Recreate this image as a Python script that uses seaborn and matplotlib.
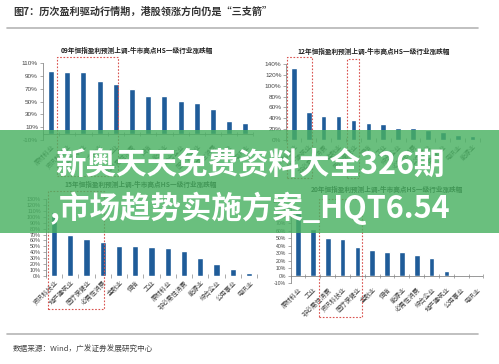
import numpy as np
import pandas as pd
import matplotlib.pyplot as plt
import matplotlib.patches as patches
from matplotlib.lines import Line2D
import matplotlib.transforms as mtransforms
import seaborn as sns

sns.set_theme(style='white')
plt.rcParams['font.family'] = ['Noto Sans CJK SC', 'DejaVu Sans']
plt.rcParams['axes.unicode_minus'] = False

# -----------------------------
# data
# -----------------------------
tl_labels = ['原材料业', '资讯科技业', '地产建筑业', '金融业', '工业', '非必需性消费', '恒指',
             '能源业', '综合企业', '医疗保健业', '必需性消费', '公用事业', '电讯业']
tl_values = [97, 96, 96, 82, 77, 70, 59, 58, 51, 48, 39, 19, 17]

tr_labels = ['资讯科技业', '地产建筑业', '非必需性消费', '金融业', '医疗保健业', '恒指', '工业',
             '综合企业', '必需性消费', '公用事业', '原材料业', '电讯业', '能源业']
tr_values = [133, 52, 45, 44, 36, 31, 30, 22, 22, 19, 15, 9, 7]

bl_labels = ['资讯科技业', '地产建筑业', '医疗保健业', '必需性消费', '金融业', '恒指', '工业',
             '原材料业', '非必需性消费', '能源业', '综合企业', '公用事业', '电讯业']
bl_values = [108, 69, 62, 57, 51, 51, 49, 48, 42, 31, 21, 11, 4.5]

br_labels = ['原材料业', '工业', '非必需性消费', '资讯科技业', '医疗保健业', '金融业', '恒指',
             '能源业', '必需性消费', '综合企业', '地产建筑业', '公用事业', '电讯业']
br_values = [84, 62, 51, 49, 38, 34, 32, 31.5, 27, 23.5, 6, -0.5, -1.5]

tl_title = '09年恒指盈利预测上调-牛市高点HS一级行业涨跌幅'
tr_title = '12年恒指盈利预测上调-牛市高点HS一级行业涨跌幅'
bl_title = '15年恒指盈利预测上调-牛市高点HS一级行业涨跌幅'
br_title = '20年恒指盈利预测上调-牛市高点HS一级行业涨跌幅'

BAR = '#1f5c99'
RED = '#d9534f'
GREY = '#444444'


def draw_panel(ax, labels, values, ylim, ystep, title, title_pos, boxes, tick_fs=4.6):
    df = pd.DataFrame({'ind': labels, 'chg': values})
    sns.barplot(data=df, x='ind', y='chg', color=BAR, width=0.38,
                saturation=1, ax=ax, zorder=2)
    ax.set_xlim(-0.5, len(labels) - 0.5)
    ax.set_ylim(*ylim)
    ticks = np.arange(ylim[0], ylim[1] + 0.1, ystep)
    ax.set_yticks(ticks)
    ax.set_yticklabels([f'{t:.0f}%' for t in ticks], fontsize=tick_fs, color=GREY,
                       family=['Liberation Sans', 'DejaVu Sans'])
    ax.set_xticks(range(len(labels)))
    ax.set_xticklabels(labels, rotation=45, ha='right', rotation_mode='anchor',
                       fontsize=4.6, color=GREY)
    ax.tick_params(axis='x', length=0, pad=2)
    ax.tick_params(axis='y', length=2, width=0.5, color='#888888', pad=1.5, left=True)
    ax.set_xlabel('')
    ax.set_ylabel('')
    for s in ['top', 'right', 'bottom']:
        ax.spines[s].set_visible(False)
    ax.spines['left'].set_color('#888888')
    ax.spines['left'].set_linewidth(0.6)
    ax.axhline(0, color='#888888', lw=0.6, zorder=3)
    ax.plot(np.arange(len(labels) + 1) - 0.5, np.zeros(len(labels) + 1), '|',
            color='#888888', ms=2.5, mew=0.5, clip_on=False, zorder=3)
    ax.text(title_pos[0], title_pos[1], title, transform=ax.transAxes, ha='center',
            va='center', fontsize=4.8, fontweight='bold', color='#222222')
    trans = mtransforms.blended_transform_factory(ax.transData, ax.transAxes)
    for x0, x1, y0, y1 in boxes:
        ax.add_patch(patches.Rectangle((x0, y0), x1 - x0, y1 - y0, transform=trans,
                                       fill=False, ec=RED, lw=0.8, ls=(0, (1.5, 1.5)),
                                       clip_on=False, zorder=4))


fig = plt.figure(figsize=(4.99, 3.64), dpi=100)
fig.patch.set_facecolor('white')

ax_tl = fig.add_axes([0.086, 0.6154, 0.422, 0.2115])
ax_tr = fig.add_axes([0.574, 0.6154, 0.388, 0.2088])
ax_bl = fig.add_axes([0.092, 0.2418, 0.4233, 0.2115])
ax_br = fig.add_axes([0.5824, 0.2225, 0.3864, 0.2253])

draw_panel(ax_tl, tl_labels, tl_values, (-10, 110), 20, tl_title, (0.447, 1.16),
           [(0.37, 4.14, -0.47, 1.08)])
draw_panel(ax_tr, tr_labels, tr_values, (0, 140), 20, tr_title, (0.45, 1.17),
           [(-0.47, 1.21, -0.5, 1.09), (3.56, 4.37, -0.5, 1.07)])
draw_panel(ax_bl, bl_labels, bl_values, (0, 130), 10, bl_title, (0.45, 1.19),
           [(-0.37, 3.08, -0.43, 1.10)], tick_fs=3.9)
draw_panel(ax_br, br_labels, br_values, (-10, 100), 10, br_title, (0.5, 1.14),
           [(1.41, 4.31, -0.41, 1.02)], tick_fs=3.7)

# header / footer
fig.text(13 / 499, 1 - 12 / 364, '图7：历次盈利驱动行情期，港股领涨方向仍是“三支箭”',
         fontsize=7.3, fontweight='bold', color='#333333', va='center', ha='left')
fig.add_artist(Line2D([7 / 499, 478 / 499], [1 - 28 / 364] * 2, color='#b5b5b5', lw=1.2))
fig.add_artist(Line2D([7 / 499, 478 / 499], [1 - 334 / 364] * 2, color='#b5b5b5', lw=1.2))
fig.text(13 / 499, 1 - 350 / 364, '数据来源：Wind，广发证券发展研究中心',
         fontsize=5.5, color='#444444', va='center', ha='left')

# green overlay band with the banner text
fig.add_artist(patches.Rectangle((0, 1 - 233 / 364), 1, 103 / 364, transform=fig.transFigure,
                                 facecolor='#49b162', alpha=0.82, edgecolor='none', zorder=10))
fig.text(0.501, 0.548, '新奥天天免费资料大全326期', fontsize=22, fontweight='bold',
         color='white', ha='center', va='center', zorder=11)
fig.text(0.5, 0.428, ',市场趋势实施方案_HQT6.54', fontsize=22, fontweight='bold',
         color='white', ha='center', va='center', zorder=11)

fig.savefig('out.png', dpi=100)
